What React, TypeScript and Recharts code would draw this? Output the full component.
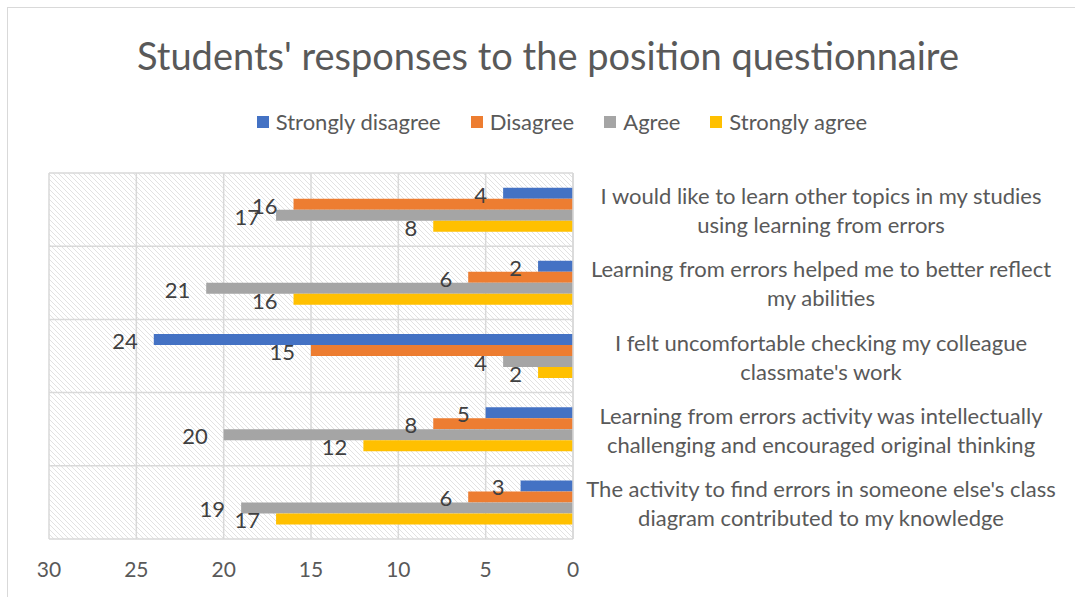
import React from 'react';
import { BarChart, Bar, XAxis, YAxis, CartesianGrid, Legend, LabelList } from 'recharts';

// questions, top to bottom (line breaks as in the original)
const questions = [
  'I would like to learn other topics in my studies\nusing learning from errors',
  'Learning from errors helped me to better reflect\nmy abilities',
  "I felt uncomfortable checking my colleague\nclassmate's work",
  'Learning from errors activity was intellectually\nchallenging and encouraged original thinking',
  "The activity to find errors in someone else's class\ndiagram contributed to my knowledge",
];

const stronglyDisagree = [4, 2, 24, 5, 3];
const disagree = [16, 6, 15, 8, 6];
const agree = [17, 21, 4, 20, 19];
const stronglyAgree = [8, 16, 2, 12, 17];

const xTicks = [0, 5, 10, 15, 20, 25, 30];

const series = [
  { key: 'Strongly disagree', color: '#4472C4' },
  { key: 'Disagree', color: '#ED7D31' },
  { key: 'Agree', color: '#A5A5A5' },
  { key: 'Strongly agree', color: '#FFC000' },
];

const data = questions.map((q, i) => ({
  question: q,
  'Strongly disagree': stronglyDisagree[i],
  'Disagree': disagree[i],
  'Agree': agree[i],
  'Strongly agree': stronglyAgree[i],
}));

const FONT = 'Lato, "Noto Sans", sans-serif';
const TEXT = '#595959';

const QuestionTick = (props: any) => {
  const { x, y, payload } = props;
  const lines = String(payload.value).split('\n');
  const lh = 29;
  const startY = y - ((lines.length - 1) * lh) / 2;
  return (
    <text x={x + 240} y={startY} textAnchor="middle" fill={TEXT} fontSize={22} fontFamily={FONT} dominantBaseline="central">
      {lines.map((l, i) => (
        <tspan key={i} x={x + 240} y={startY + i * lh}>{l}</tspan>
      ))}
    </text>
  );
};

const ValueTick = (props: any) => {
  const { x, y, payload } = props;
  return (
    <text x={x} y={y + 21} textAnchor="middle" fill={TEXT} fontSize={21} fontFamily={FONT} dominantBaseline="central">
      {payload.value}
    </text>
  );
};

// value written just past the end of the bar (bars grow leftwards)
const EndLabel = (props: any) => {
  const { x, y, width, height, value } = props;
  const left = Math.min(x, x + width);
  return (
    <text x={left - 16} y={y + height / 2 + 1} textAnchor="end" fill="#404040" fontSize={22} fontFamily={FONT} dominantBaseline="central">
      {value}
    </text>
  );
};

const LegendContent = () => (
  <div style={{ display: 'flex', justifyContent: 'center', fontFamily: FONT, fontSize: 22, lineHeight: '26px', color: TEXT }}>
    {series.map(s => (
      <div key={s.key} style={{ display: 'flex', alignItems: 'center', margin: '0 15px' }}>
        <span style={{ display: 'inline-block', width: 12, height: 12, background: s.color, marginRight: 7 }} />
        <span>{s.key}</span>
      </div>
    ))}
  </div>
);

const App: React.FC = () => {
  return (
    <div style={styles.page}>
      <svg width={0} height={0} style={{ position: 'absolute' }}>
        <defs>
          <pattern id="hatch" patternUnits="userSpaceOnUse" width={5} height={5}>
            <rect width={5} height={5} fill="#ffffff" />
            <path d="M0,0 L5,5 M-1,4 L1,6 M4,-1 L6,1" stroke="#e2e2e2" strokeWidth={1} />
          </pattern>
        </defs>
      </svg>
      <div style={styles.frame} />
      <div style={styles.title}>Students' responses to the position questionnaire</div>
      <BarChart
        width={1075}
        height={597}
        data={data}
        layout="vertical"
        margin={{ top: 109, right: 0, left: 49, bottom: 18 }}
        barCategoryGap="20%"
        barGap={0}
      >
        <CartesianGrid
          fill="url(#hatch)"
          stroke="#d9d9d9"
          strokeWidth={1.5}
          horizontalCoordinatesGenerator={({ offset }: any) =>
            questions.map((_, i) => offset.top + (i * offset.height) / questions.length).concat(offset.top + offset.height)
          }
        />
        <XAxis
          type="number"
          domain={[0, 30]}
          ticks={xTicks}
          reversed
          axisLine={false}
          tickLine={false}
          height={40}
          tick={<ValueTick />}
          interval={0}
        />
        <YAxis
          type="category"
          dataKey="question"
          orientation="right"
          width={502}
          axisLine={{ stroke: '#d9d9d9', strokeWidth: 1.5 }}
          tickLine={false}
          tick={<QuestionTick />}
          interval={0}
        />
        <Legend
          verticalAlign="top"
          align="center"
          content={<LegendContent />}
          wrapperStyle={{ paddingBottom: 38 }}
        />
        {series.map(s => (
          <Bar key={s.key} dataKey={s.key} fill={s.color} isAnimationActive={false}>
            <LabelList dataKey={s.key} content={<EndLabel />} />
          </Bar>
        ))}
      </BarChart>
    </div>
  );
};

const styles = {
  page: {
    position: 'absolute' as const,
    left: 0,
    top: 0,
    width: '1075px',
    height: '597px',
    background: '#ffffff',
    overflow: 'hidden' as const,
  },
  frame: {
    position: 'absolute' as const,
    left: '7px',
    top: '7px',
    width: '1100px',
    height: '620px',
    borderTop: '1px solid #d9d9d9',
    borderLeft: '1px solid #d9d9d9',
  },
  title: {
    position: 'absolute' as const,
    left: 0,
    top: '32px',
    width: '1096px',
    textAlign: 'center' as const,
    fontFamily: FONT,
    fontSize: '38px',
    color: TEXT,
    lineHeight: '46px',
  },
};

export default App;
